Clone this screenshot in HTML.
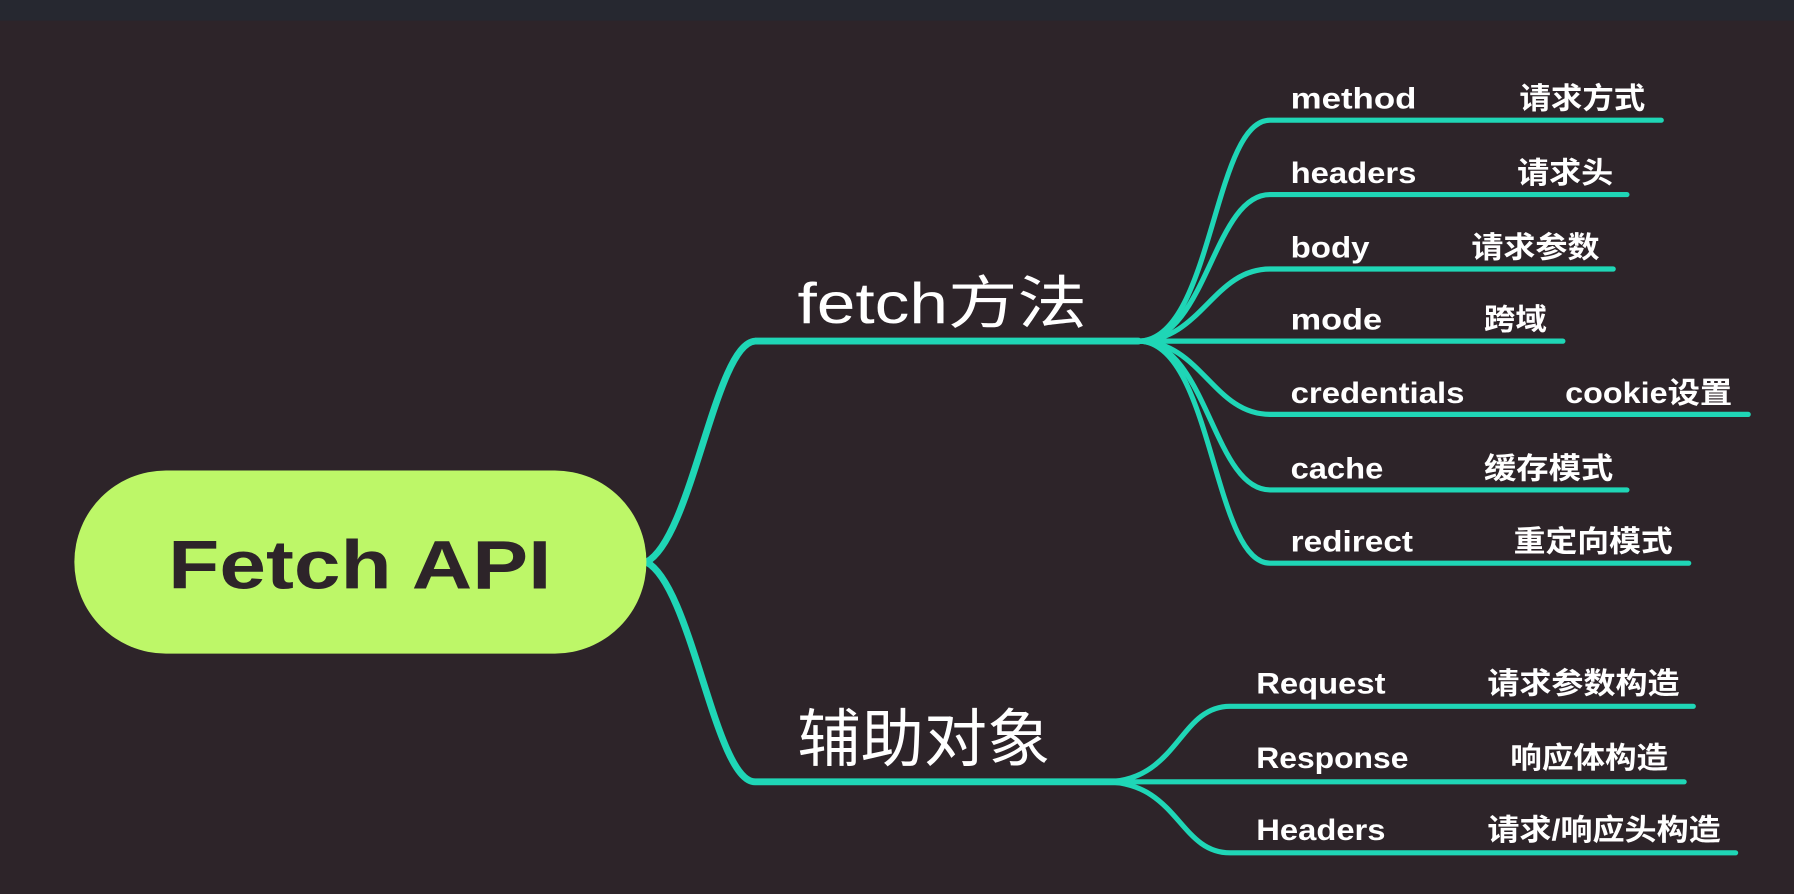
<!DOCTYPE html>
<html><head><meta charset="utf-8"><style>
html,body{margin:0;padding:0;background:#2d2429;}
svg{display:block}
text{font-family:"Liberation Sans","Noto Sans CJK SC",sans-serif;fill:#fff}
</style></head><body>
<svg width="1794" height="894" viewBox="0 0 1568 781" preserveAspectRatio="none">
<rect x="0" y="0" width="1568" height="781" fill="#2d2429"/>
<rect x="0" y="0" width="1568" height="18" fill="#262830"/>
<g fill="none" stroke="#1fd6b6" stroke-linecap="round">
<path d="M565 491 C605 470 625 300 660 298 L995 298" stroke-width="6"/>
<path d="M565 491 C605 512 625 683 660 683 L990 683" stroke-width="6"/>
<g stroke-width="4.5">
<path d="M995 298 C1060 298 1060 105 1110 105 L1452 105"/>
<path d="M995 298 C1055 298 1060 170 1110 170 L1422 170"/>
<path d="M995 298 C1050 298 1060 235 1110 235 L1410 235"/>
<path d="M995 298 L1366 298"/>
<path d="M995 298 C1050 298 1060 362 1110 362 L1528 362"/>
<path d="M995 298 C1055 298 1060 428 1110 428 L1422 428"/>
<path d="M995 298 C1060 298 1060 492 1110 492 L1476 492"/>
<path d="M965 683 C1030 683 1030 617 1075 617 L1480 617"/>
<path d="M965 683 L1472 683"/>
<path d="M965 683 C1030 683 1030 745 1075 745 L1517 745"/>
</g></g>
<rect x="65" y="411" width="500" height="160" rx="80" fill="#bdf768"/>
<text x="147" y="514" font-size="60" font-weight="bold" textLength="335" lengthAdjust="spacingAndGlyphs" style="fill:#2d2429">Fetch API</text>
<text x="697" y="282" font-size="50" textLength="253" lengthAdjust="spacingAndGlyphs">fetch方法</text>
<text x="697" y="665" font-size="55" textLength="221" lengthAdjust="spacingAndGlyphs">辅助对象</text>
<g font-size="26" font-weight="bold" lengthAdjust="spacingAndGlyphs">
<text x="1128" y="95" textLength="110" lengthAdjust="spacingAndGlyphs">method</text><text x="1328" y="95" textLength="110" lengthAdjust="spacingAndGlyphs">请求方式</text>
<text x="1128" y="160" textLength="110" lengthAdjust="spacingAndGlyphs">headers</text><text x="1326" y="160" textLength="84" lengthAdjust="spacingAndGlyphs">请求头</text>
<text x="1128" y="225" textLength="69" lengthAdjust="spacingAndGlyphs">body</text><text x="1286" y="225" textLength="112" lengthAdjust="spacingAndGlyphs">请求参数</text>
<text x="1128" y="288" textLength="80" lengthAdjust="spacingAndGlyphs">mode</text><text x="1297" y="288" textLength="55" lengthAdjust="spacingAndGlyphs">跨域</text>
<text x="1128" y="352" textLength="152" lengthAdjust="spacingAndGlyphs">credentials</text><text x="1368" y="352" textLength="146" lengthAdjust="spacingAndGlyphs">cookie设置</text>
<text x="1128" y="418" textLength="81" lengthAdjust="spacingAndGlyphs">cache</text><text x="1297" y="418" textLength="113" lengthAdjust="spacingAndGlyphs">缓存模式</text>
<text x="1128" y="482" textLength="107" lengthAdjust="spacingAndGlyphs">redirect</text><text x="1323" y="482" textLength="139" lengthAdjust="spacingAndGlyphs">重定向模式</text>
<text x="1098" y="606" textLength="113" lengthAdjust="spacingAndGlyphs">Request</text><text x="1300" y="606" textLength="168" lengthAdjust="spacingAndGlyphs">请求参数构造</text>
<text x="1098" y="671" textLength="133" lengthAdjust="spacingAndGlyphs">Response</text><text x="1320" y="671" textLength="138" lengthAdjust="spacingAndGlyphs">响应体构造</text>
<text x="1098" y="734" textLength="113" lengthAdjust="spacingAndGlyphs">Headers</text><text x="1300" y="734" textLength="204" lengthAdjust="spacingAndGlyphs">请求/响应头构造</text>
</g>
</svg>
</body></html>
